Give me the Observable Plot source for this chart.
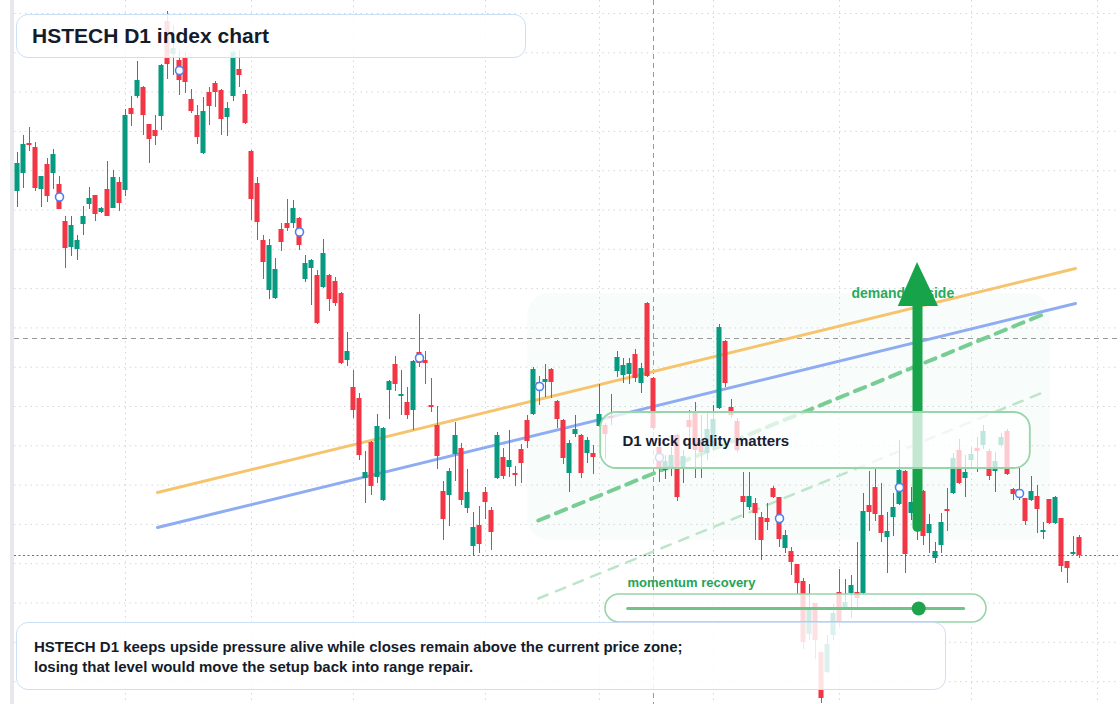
<!DOCTYPE html>
<html><head><meta charset="utf-8">
<script src="https://cdn.jsdelivr.net/npm/d3@7"></script>
<script src="https://cdn.jsdelivr.net/npm/@observablehq/plot@0.6"></script>
<style>
body{margin:0;background:#fff;font-family:"Liberation Sans",Arial,sans-serif;}
#wrap{position:relative;width:1120px;height:704px;overflow:hidden;background:#fff;}
#wrap svg{position:absolute;left:0;top:0;}
#strip{position:absolute;left:10px;top:0;width:4px;height:704px;background:#e7e8eb;}
.box{position:absolute;background:rgba(255,255,255,0.86);border:1px solid #cddff6;border-radius:12px;box-sizing:border-box;color:#141c2b;font-weight:700;}
#title{left:16px;top:14px;width:510px;height:44px;font-size:21px;padding-left:15px;line-height:42px;}
#caption{left:16px;top:622px;width:930px;height:68px;font-size:15px;padding:14px 17px;line-height:20px;}
</style></head>
<body>
<div id="wrap"></div>
<script>
// ---- data (daily candles, index points) ----
const open = [4809,4827,4857,4853,4811,4836,4827,4816,4779,4753,
4751,4776,4796,4805,4788,4811,4792,4818,4810,4892,
4904,4913,4876,4870,4884,4979,4946,4940,4942,4901,
4885,4847,4908,4917,4910,4883,4904,4931,4906,4849,
4817,4760,4710,4702,4771,4777,4777,4782,4721,4732,
4725,4713,4725,4719,4707,4640,4613,4602,4522,4558,
4523,4500,4610,4636,4604,4598,4590,4648,4640,4595,
4575,4509,4505,4546,4552,4492,4454,4475,4508,4490,
4522,4543,4533,4527,4551,4580,4586,4618,4618,4631,
4599,4580,4527,4566,4565,4547,4547,4574,4575,4584,
4629,4625,4626,4646,4617,4697,4622,4553,4530,4532,
4565,4532,4580,4587,4560,4547,4553,4592,4659,4593,
4579,4504,4493,4497,4483,4482,4512,4503,4452,4449,
4436,4419,4366,4397,4348,4328,4365,4408,4393,4407,
4408,4407,4495,4513,4485,4463,4483,4496,4529,4487,
4470,4509,4467,4442,4455,4491,4507,4550,4522,4540,
4552,4555,4549,4529,4555,4569,4511,4503,4502,4500,
4504,4468,4501,4477,4482,4439,4446,4463];
const close = [4837,4856,4855,4812,4824,4804,4846,4791,4752,4775,
4760,4784,4802,4786,4792,4784,4823,4797,4885,4886,
4920,4885,4861,4864,4935,4936,4952,4920,4918,4889,
4863,4889,4894,4908,4881,4892,4948,4925,4877,4801,
4778,4738,4755,4731,4758,4772,4792,4755,4737,4740,
4677,4747,4701,4697,4637,4649,4590,4545,4528,4514,
4574,4572,4619,4616,4606,4585,4639,4637,4637,4593,
4544,4481,4529,4565,4500,4508,4473,4456,4498,4468,
4565,4524,4540,4525,4537,4559,4631,4610,4621,4618,
4581,4542,4557,4571,4527,4560,4543,4586,4566,4582,
4643,4635,4637,4622,4632,4624,4572,4533,4539,4545,
4503,4544,4573,4550,4548,4571,4581,4673,4617,4585,
4550,4498,4504,4487,4460,4478,4503,4461,4465,4438,
4417,4358,4390,4360,4302,4356,4387,4379,4398,4415,
4402,4489,4488,4486,4467,4469,4493,4530,4446,4498,
4488,4464,4476,4449,4478,4489,4542,4517,4528,4546,
4549,4569,4524,4539,4563,4526,4506,4511,4479,4509,
4491,4470,4477,4503,4434,4432,4448,4445];
const high = [4848,4865,4873,4858,4824,4842,4851,4824,4784,4784,
4765,4794,4813,4805,4793,4839,4830,4823,4891,4904,
4939,4914,4876,4885,4936,4989,4975,4950,4948,4911,
4895,4903,4913,4919,4911,4898,4950,4950,4910,4850,
4823,4765,4761,4742,4777,4801,4800,4783,4745,4741,
4730,4761,4726,4723,4708,4668,4630,4607,4549,4559,
4586,4573,4620,4644,4630,4613,4640,4686,4649,4622,
4594,4519,4532,4578,4557,4531,4488,4494,4513,4493,
4568,4552,4570,4534,4556,4585,4633,4624,4636,4632,
4600,4581,4560,4585,4566,4563,4555,4616,4577,4606,
4649,4642,4642,4651,4637,4698,4623,4560,4545,4553,
4566,4550,4590,4598,4585,4587,4595,4676,4660,4601,
4582,4528,4528,4502,4488,4497,4514,4503,4470,4453,
4436,4422,4416,4397,4348,4365,4396,4431,4421,4425,
4458,4507,4529,4533,4517,4488,4507,4560,4530,4513,
4495,4510,4486,4458,4487,4512,4547,4561,4545,4553,
4563,4575,4551,4548,4567,4571,4512,4532,4502,4524,
4515,4478,4501,4504,4482,4439,4464,4465];
const low = [4793,4812,4849,4809,4793,4798,4811,4791,4732,4744,
4740,4765,4791,4779,4787,4784,4792,4789,4804,4874,
4902,4865,4837,4855,4870,4921,4925,4905,4907,4887,
4856,4846,4875,4893,4865,4864,4899,4913,4876,4780,
4760,4721,4701,4701,4749,4769,4772,4750,4718,4695,
4676,4712,4689,4694,4636,4634,4582,4540,4497,4505,
4517,4499,4581,4609,4585,4581,4570,4633,4616,4588,
4531,4460,4474,4519,4495,4487,4445,4447,4481,4450,
4521,4521,4523,4514,4517,4552,4585,4595,4603,4602,
4572,4536,4508,4563,4522,4537,4526,4573,4541,4575,
4623,4617,4616,4618,4607,4623,4570,4518,4521,4524,
4499,4517,4560,4522,4522,4540,4550,4591,4613,4582,
4548,4482,4490,4460,4440,4470,4502,4453,4447,4425,
4406,4351,4360,4341,4297,4327,4360,4373,4390,4382,
4393,4406,4469,4479,4458,4427,4464,4495,4427,4480,
4460,4455,4447,4437,4447,4469,4506,4516,4503,4532,
4528,4551,4520,4508,4553,4525,4500,4500,4475,4499,
4467,4461,4476,4476,4428,4417,4445,4442];

const markerIdx = [7,27,47,67,87,107,127,147,167];
const gridX = [18,39,56,78,97,116,137,159,180];
const gridY = [4987,4947.7,4908.4,4869.1,4829.8,4790.5,4751.2,4711.9,4672.6,4633.3,4594,4554.7,4515.4,4476.1,4436.8,4397.5,4358.2,4318.9];

// trend / channel lines (bar index, price)
const trendX = [23.33, 176.33];
const orangeY = [4508, 4732];
const blueY = [4473, 4697];
const dashX = [86.8, 171.7];
const dashStrongY = [4480, 4688];
const dashLightY = [4402, 4610];
const crossX = 106, crossY = 4662;

// annotation geometry (bar index, price)
const zone = {x1: 85, x2: 172.2, y1: 4460, y2: 4707};
const wickBox = {x1: 97.2, x2: 168.8, y1: 4532, y2: 4588};
const slider = {x1: 98, x2: 161.5, y1: 4378, y2: 4406, t1: 101.7, t2: 157.7, ty: 4392, dot: 150.2};
const arrowX = 150, arrowY1 = 4473, arrowY2 = 4700;
const headX = [146.8, 150, 153.5], headY = [4694, 4738, 4694];

const GREEN = "#089981", RED = "#f23645";
const candles = open.map((o, i) => {
  const c = close[i];
  let b1 = o, b2 = c;
  if (Math.abs(b1 - b2) < 1.6) { const m = (o + c) / 2; b1 = m - 0.8; b2 = m + 0.8; }
  return {i, o, c, h: high[i], l: low[i], b1, b2, col: c >= o ? GREEN : RED};
});
const markers = markerIdx.map(i => ({i, y: (open[i] + close[i]) / 2}));
const line = (xs, ys) => xs.map((x, k) => ({x, y: ys[k]}));
const head = line(headX, headY);
const lastClose = close[close.length - 1];

const txt = {fontFamily: '"Liberation Sans", Arial, sans-serif', fontWeight: "bold", textAnchor: "start"};

const plot = Plot.plot({
  width: 1120, height: 704,
  marginTop: 0, marginBottom: 0, marginLeft: 14, marginRight: 2,
  x: {domain: [-0.5, 183.5], axis: null},
  y: {domain: [4296, 5000], axis: null},
  style: {background: "transparent", overflow: "visible"},
  marks: [
    Plot.rect([zone], {x1: "x1", x2: "x2", y1: "y1", y2: "y2", rx: 22, fill: "#f7fcf9", fillOpacity: 0.9}),
    Plot.ruleY(gridY, {stroke: "#d3d6db", strokeDasharray: "1.5,4", strokeWidth: 1}),
    Plot.ruleX(gridX, {stroke: "#d3d6db", strokeDasharray: "1.5,4", strokeWidth: 1}),
    Plot.ruleX([crossX], {stroke: "#9a9a9a", strokeDasharray: "5,4", strokeWidth: 1}),
    Plot.ruleY([crossY], {stroke: "#9a9a9a", strokeDasharray: "5,4", strokeWidth: 1}),
    Plot.line(line(trendX, orangeY), {x: "x", y: "y", stroke: "#f7c46e", strokeWidth: 3}),
    Plot.line(line(trendX, blueY), {x: "x", y: "y", stroke: "#8eacf1", strokeWidth: 3}),
    Plot.line(line(dashX, dashLightY), {x: "x", y: "y", stroke: "#bde5c9", strokeWidth: 2.5, strokeDasharray: "10,9"}),
    Plot.line(line(dashX, dashStrongY), {x: "x", y: "y", stroke: "#79cd94", strokeWidth: 4, strokeDasharray: "11,8"}),
    Plot.ruleX(candles, {x: "i", y1: "l", y2: "h", stroke: "col", strokeWidth: 1}),
    Plot.rect(candles, {x1: d => d.i - 0.42, x2: d => d.i + 0.42, y1: "b1", y2: "b2", fill: "col"}),
    Plot.dot(markers, {x: "i", y: "y", r: 4, fill: "white", stroke: "#4f80ef", strokeWidth: 1.6}),
    Plot.ruleY([lastClose], {stroke: "red", strokeOpacity: 0.8, strokeDasharray: "2,2.5", strokeWidth: 1}),
    Plot.text(["demand upside"], {x: 139, y: 4707, text: d => d, fontSize: 14, fill: "#29aa5c", ...txt}),
    Plot.ruleX([arrowX], {y1: arrowY1, y2: arrowY2, stroke: "#17a34a", strokeWidth: 10, strokeLinecap: "round"}),
    Plot.areaY(head, {x: "x", y1: headY[0], y2: "y", fill: "#17a34a", curve: "linear"}),
    Plot.rect([wickBox], {x1: "x1", x2: "x2", y1: "y1", y2: "y2", rx: 16, fill: "white", fillOpacity: 0.74, stroke: "#98d5a9", strokeWidth: 1.8}),
    Plot.text(["D1 wick quality matters"], {x: 100.83, y: 4559, text: d => d, fontSize: 15, fill: "#172033", ...txt}),
    Plot.text(["momentum recovery"], {x: 101.67, y: 4418, text: d => d, fontSize: 13, fill: "#25a456", ...txt}),
    Plot.rect([slider], {x1: "x1", x2: "x2", y1: "y1", y2: "y2", rx: 14, fill: "white", fillOpacity: 0.8, stroke: "#98d5a9", strokeWidth: 1.6}),
    Plot.line([{x: slider.t1, y: slider.ty}, {x: slider.t2, y: slider.ty}], {x: "x", y: "y", stroke: "#6fc48a", strokeWidth: 3}),
    Plot.dot([{x: slider.dot, y: slider.ty}], {x: "x", y: "y", r: 7, fill: "#1fa34d"})
  ]
});

const wrap = document.getElementById("wrap");
wrap.append(plot);
const strip = document.createElement("div"); strip.id = "strip"; wrap.append(strip);
const title = document.createElement("div"); title.id = "title"; title.className = "box";
title.textContent = "HSTECH D1 index chart"; wrap.append(title);
const cap = document.createElement("div"); cap.id = "caption"; cap.className = "box";
cap.innerHTML = "HSTECH D1 keeps upside pressure alive while closes remain above the current price zone;<br>losing that level would move the setup back into range repair.";
wrap.append(cap);
</script>
</body></html>
